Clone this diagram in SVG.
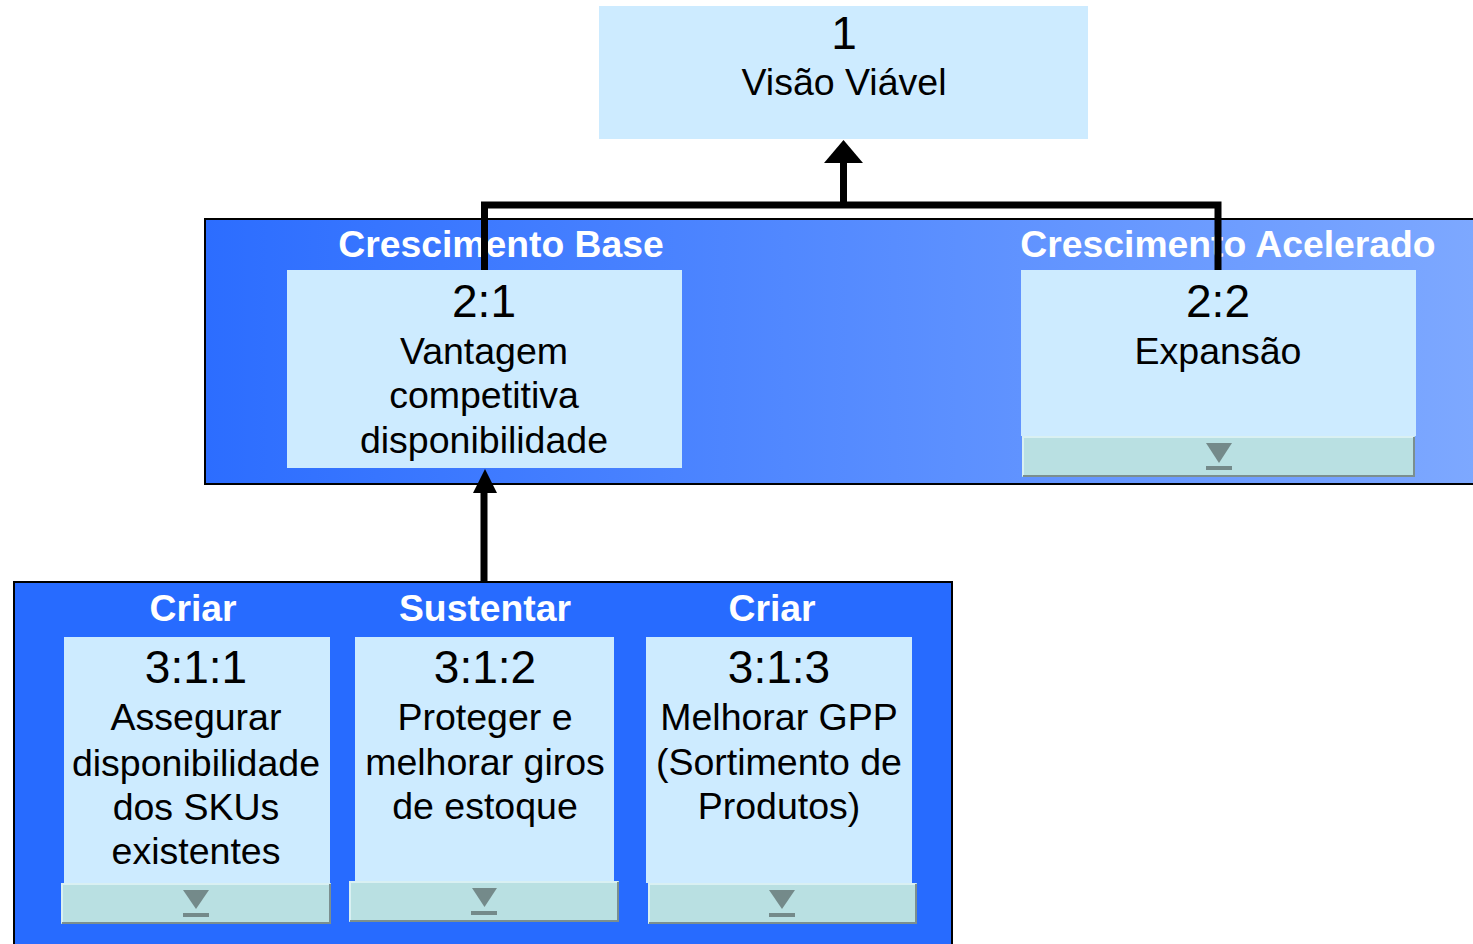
<svg xmlns="http://www.w3.org/2000/svg" width="1473" height="944" viewBox="0 0 1473 944">
  <defs>
    <linearGradient id="growthFill" x1="205" y1="0" x2="1475" y2="0" gradientUnits="userSpaceOnUse">
      <stop offset="0" stop-color="#2c6dff"/>
      <stop offset="1" stop-color="#7da8ff"/>
    </linearGradient>
    <style>
      .panel { stroke: #000; stroke-width: 2; }
      .box { fill: #cdebff; }
      .btn { fill: #b9e0e2; }
      .btnHi { fill: none; stroke: #d9f0f2; stroke-width: 2; }
      .btnLo { fill: none; stroke: #7b8f8f; stroke-width: 2; }
      .glyph { fill: #748a8a; }
      .title { font-family: "Liberation Sans", Arial, sans-serif; font-weight: bold; font-size: 37.3px; fill: #fff; text-anchor: middle; }
      .num { font-family: "Liberation Sans", Arial, sans-serif; font-size: 46px; fill: #000; text-anchor: middle; }
      .lbl { font-family: "Liberation Sans", Arial, sans-serif; font-size: 37.5px; fill: #000; text-anchor: middle; }
      .wire { fill: none; stroke: #000; stroke-width: 7; stroke-linejoin: miter; }
      .head { fill: #000; }
    </style>
  </defs>

  <rect width="1473" height="944" fill="#fff"/>

  <!-- level 2 container -->
  <g id="panel-growth">
    <rect class="panel" x="205" y="219" width="1275" height="265" fill="url(#growthFill)"/>
    <text class="title" x="501" y="257">Crescimento Base</text>
    <text class="title" x="1228" y="257">Crescimento Acelerado</text>
  </g>

  <!-- level 3 container -->
  <g id="panel-base">
    <rect class="panel" x="14" y="582" width="938" height="380" fill="#276bff"/>
    <text class="title" x="193" y="621">Criar</text>
    <text class="title" x="485" y="621">Sustentar</text>
    <text class="title" x="772" y="621">Criar</text>
  </g>

  <!-- connectors -->
  <g id="connectors">
    <polyline class="wire" points="484.5,271 484.5,205 1218,205 1218,271"/>
    <line class="wire" x1="843.5" y1="205" x2="843.5" y2="160"/>
    <polygon class="head" points="843.5,140 863,163 824,163"/>
    <line class="wire" x1="484" y1="582" x2="484" y2="490"/>
    <polygon class="head" points="485,469 497,493 473,493"/>
  </g>

  <g id="node-1">
    <rect class="box" x="599" y="6" width="489" height="133"/>
    <text class="num" x="844" y="49">1</text>
    <text class="lbl" x="844" y="95">Visão Viável</text>
  </g>

  <g id="node-2-1">
    <rect class="box" x="287" y="270" width="395" height="198"/>
    <text class="num" x="484" y="317">2:1</text>
    <text class="lbl" x="484" y="364">Vantagem</text>
    <text class="lbl" x="484" y="408">competitiva</text>
    <text class="lbl" x="484" y="453">disponibilidade</text>
  </g>

  <g id="node-2-2">
    <rect class="box" x="1021" y="270" width="395" height="166"/>
    <text class="num" x="1218" y="317">2:2</text>
    <text class="lbl" x="1218" y="364">Expansão</text>
    <g class="expander">
      <rect class="btn" x="1022" y="436" width="393" height="41"/>
      <polyline class="btnHi" points="1023,476 1023,437 1414,437"/>
      <polyline class="btnLo" points="1023,476 1414,476 1414,437"/>
      <polygon class="glyph" points="1206,443 1232,443 1219,463"/>
      <rect class="glyph" x="1206" y="466" width="26" height="4"/>
    </g>
  </g>

  <g id="node-3-1-1">
    <rect class="box" x="64" y="637" width="266" height="246"/>
    <text class="num" x="196" y="683">3:1:1</text>
    <text class="lbl" x="196" y="730">Assegurar</text>
    <text class="lbl" x="196" y="776">disponibilidade</text>
    <text class="lbl" x="196" y="820">dos SKUs</text>
    <text class="lbl" x="196" y="864">existentes</text>
    <g class="expander">
      <rect class="btn" x="61" y="883" width="270" height="41"/>
      <polyline class="btnHi" points="62,923 62,884 330,884"/>
      <polyline class="btnLo" points="62,923 330,923 330,884"/>
      <polygon class="glyph" points="183,890 209,890 196,909"/>
      <rect class="glyph" x="183" y="913" width="26" height="4"/>
    </g>
  </g>

  <g id="node-3-1-2">
    <rect class="box" x="355" y="637" width="259" height="244"/>
    <text class="num" x="485" y="683">3:1:2</text>
    <text class="lbl" x="485" y="730">Proteger e</text>
    <text class="lbl" x="485" y="775">melhorar giros</text>
    <text class="lbl" x="485" y="819">de estoque</text>
    <g class="expander">
      <rect class="btn" x="349" y="881" width="270" height="41"/>
      <polyline class="btnHi" points="350,921 350,882 618,882"/>
      <polyline class="btnLo" points="350,921 618,921 618,882"/>
      <polygon class="glyph" points="472,888 497,888 484.5,907"/>
      <rect class="glyph" x="471" y="911" width="26" height="4"/>
    </g>
  </g>

  <g id="node-3-1-3">
    <rect class="box" x="646" y="637" width="266" height="246"/>
    <text class="num" x="779" y="683">3:1:3</text>
    <text class="lbl" x="779" y="730">Melhorar GPP</text>
    <text class="lbl" x="779" y="775">(Sortimento de</text>
    <text class="lbl" x="779" y="819">Produtos)</text>
    <g class="expander">
      <rect class="btn" x="648" y="883" width="269" height="41"/>
      <polyline class="btnHi" points="649,923 649,884 916,884"/>
      <polyline class="btnLo" points="649,923 916,923 916,884"/>
      <polygon class="glyph" points="769,890 795,890 782,909"/>
      <rect class="glyph" x="769" y="913" width="26" height="4"/>
    </g>
  </g>
</svg>
